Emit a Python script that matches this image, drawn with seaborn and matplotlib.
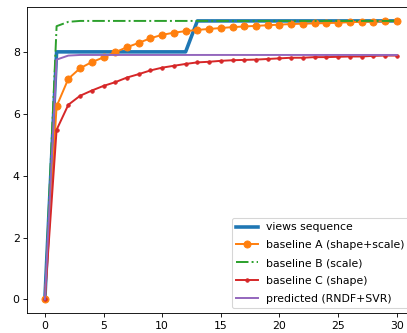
import matplotlib
matplotlib.use("Agg")
import matplotlib.pyplot as plt
import seaborn as sns

steps = list(range(31))

views_seq = [0, 8, 8, 8, 8, 8, 8, 8, 8, 8, 8, 8, 8,
             9, 9, 9, 9, 9, 9, 9, 9, 9, 9, 9, 9, 9, 9, 9, 9, 9, 9]
base_a = [0, 6.24, 7.13, 7.47, 7.67, 7.82, 7.99, 8.15, 8.29, 8.44, 8.55,
          8.62, 8.67, 8.71, 8.74, 8.77, 8.80, 8.82, 8.84, 8.86, 8.88,
          8.90, 8.91, 8.92, 8.93, 8.94, 8.96, 8.97, 8.98, 8.99, 9.0]
base_b = [0, 8.83, 8.97, 9.0, 9.0, 9.0, 9.0, 9.0, 9.0, 9.0, 9.0,
          9.0, 9.0, 9.0, 9.0, 9.0, 9.0, 9.0, 9.0, 9.0, 9.0,
          9.0, 9.0, 9.0, 9.0, 9.0, 9.0, 9.0, 9.0, 9.0, 9.0]
base_c = [0, 5.48, 6.29, 6.58, 6.75, 6.9, 7.02, 7.17, 7.28, 7.4, 7.49,
          7.55, 7.61, 7.66, 7.68, 7.71, 7.73, 7.74, 7.75, 7.77, 7.79,
          7.81, 7.81, 7.83, 7.83, 7.84, 7.85, 7.85, 7.87, 7.88, 7.88]
predicted = [0, 7.75, 7.88, 7.9, 7.9, 7.9, 7.9, 7.9, 7.9, 7.9, 7.9,
             7.9, 7.9, 7.9, 7.9, 7.9, 7.9, 7.9, 7.9, 7.9, 7.9,
             7.9, 7.9, 7.9, 7.9, 7.9, 7.9, 7.9, 7.9, 7.9, 7.9]

pal = sns.color_palette("tab10")

dpi = 78
fig = plt.figure(figsize=(407 / dpi, 333 / dpi), dpi=dpi)
# the original is cropped on the right, so the axes run past the figure edge
ax = fig.add_axes([0.067, 0.059, 0.951, 0.92])

sns.lineplot(x=steps, y=views_seq, ax=ax, color=pal[0], lw=3.3, label="views sequence")
sns.lineplot(x=steps, y=base_a, ax=ax, color=pal[1], lw=1.8, marker="o", markersize=6.6,
             mec=pal[1], label="baseline A (shape+scale)")
sns.lineplot(x=steps, y=base_b, ax=ax, color=pal[2], lw=1.8, ls="-.", label="baseline B (scale)")
sns.lineplot(x=steps, y=base_c, ax=ax, color=pal[3], lw=1.8, marker=".", markersize=6.5,
             mec=pal[3], label="baseline C (shape)")
sns.lineplot(x=steps, y=predicted, ax=ax, color=pal[4], lw=1.8, label="predicted (RNDF+SVR)")

ax.set_xticks([0, 5, 10, 15, 20, 25, 30])
ax.set_yticks([0, 2, 4, 6, 8])
ax.legend(loc="lower right", labelspacing=0.72, handlelength=2.0, handletextpad=0.75)

fig.savefig("out.png", dpi=dpi)
